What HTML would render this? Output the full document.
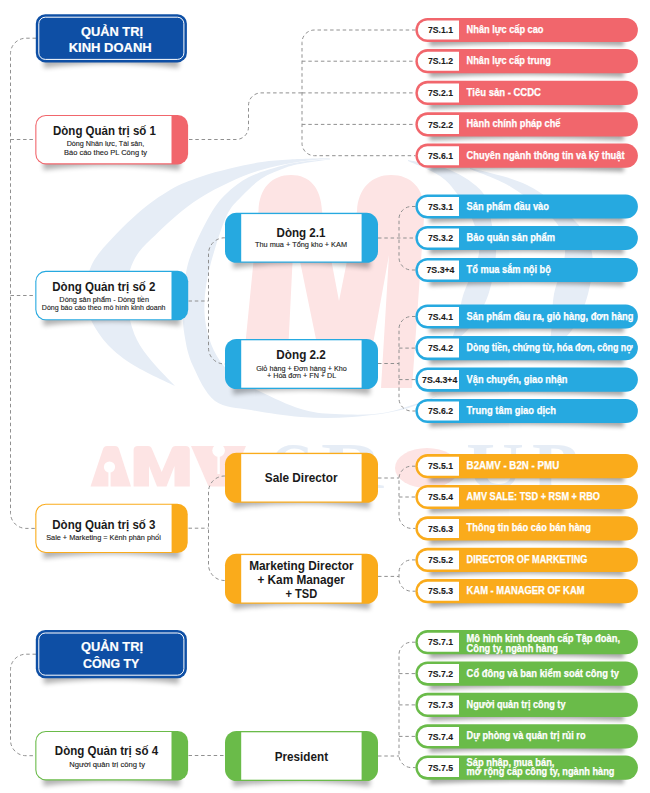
<!DOCTYPE html>
<html><head><meta charset="utf-8"><title>Diagram</title>
<style>
html,body{margin:0;padding:0;background:#fff;}
body{width:650px;height:793px;overflow:hidden;font-family:"Liberation Sans",sans-serif;}
svg{display:block;font-family:"Liberation Sans",sans-serif;}
</style></head><body>
<svg width="650" height="793" viewBox="0 0 650 793">
<defs>
<filter id="sh" x="-20%" y="-300%" width="140%" height="700%"><feGaussianBlur stdDeviation="2.8"/></filter>
<filter id="sp" x="-20%" y="-300%" width="140%" height="700%"><feGaussianBlur stdDeviation="2"/></filter>
<filter id="wm" x="-10%" y="-10%" width="120%" height="120%"><feGaussianBlur stdDeviation="0.6"/></filter>
</defs>
<rect width="650" height="793" fill="#fff"/>

<g id="watermark">
<path d="M330.0,158.0 C323.3,158.2 301.3,158.8 290.0,159.5 C278.7,160.2 272.0,160.5 262.0,162.0 C252.0,163.5 240.3,166.0 230.0,168.5 C219.7,171.0 210.0,173.4 200.0,177.0 C190.0,180.6 180.5,183.8 170.0,190.0 C159.5,196.2 148.7,203.7 137.0,214.0 C125.3,224.3 108.2,241.8 100.0,252.0 C91.8,262.2 90.5,267.5 88.0,275.0 C85.5,282.5 84.5,289.5 85.0,297.0 C85.5,304.5 87.2,312.0 91.0,320.0 C94.8,328.0 100.7,337.3 108.0,345.0 C115.3,352.7 123.8,359.2 135.0,366.0 C146.2,372.8 168.3,382.7 175.0,386.0 L175.0,386.0 C171.2,381.9 158.3,369.2 152.0,361.5 C145.7,353.8 140.8,347.6 137.0,340.0 C133.2,332.4 130.8,323.8 129.0,316.0 C127.2,308.2 126.3,300.7 126.5,293.0 C126.7,285.3 127.9,276.8 130.0,270.0 C132.1,263.2 134.8,257.8 139.0,252.0 C143.2,246.2 149.3,241.0 155.5,235.0 C161.7,229.0 168.6,222.2 176.0,216.0 C183.4,209.8 191.0,203.7 200.0,198.0 C209.0,192.3 219.8,186.7 230.0,182.0 C240.2,177.3 250.2,173.2 261.0,170.0 C271.8,166.8 283.5,164.4 295.0,162.5 C306.5,160.6 324.2,159.2 330.0,158.6 Z" fill="#e6edf6"/>
<path d="M330.0,159.0 C325.0,159.5 308.2,160.8 300.0,162.0 C291.8,163.2 289.5,163.5 281.0,166.0 C272.5,168.5 258.2,172.3 249.0,177.0 C239.8,181.7 232.5,187.7 226.0,194.0 C219.5,200.3 215.7,205.3 210.0,215.0 C204.3,224.7 196.1,241.8 192.0,252.0 C187.9,262.2 187.1,267.2 185.5,276.0 C183.9,284.8 182.7,295.2 182.5,305.0 C182.3,314.8 182.8,324.8 184.5,335.0 C186.2,345.2 187.9,355.0 193.0,366.0 C198.1,377.0 205.3,393.7 215.0,401.0 C224.7,408.3 236.7,407.3 251.0,410.0 C265.3,412.7 284.2,415.8 301.0,417.0 C317.8,418.2 335.0,418.2 352.0,417.0 C369.0,415.8 388.3,413.2 403.0,409.5 C417.7,405.8 433.8,397.4 440.0,395.0 L440.0,395.0 C431.0,397.9 403.5,409.3 386.0,412.5 C368.5,415.7 349.2,414.6 335.0,414.0 C320.8,413.4 313.3,412.7 301.0,409.0 C288.7,405.3 271.8,397.3 261.0,392.0 C250.2,386.7 242.8,382.2 236.0,377.0 C229.2,371.8 224.5,367.5 220.0,361.0 C215.5,354.5 211.6,346.2 209.0,338.0 C206.4,329.8 204.9,321.2 204.5,312.0 C204.1,302.8 204.9,293.0 206.5,283.0 C208.1,273.0 210.6,263.3 214.0,252.0 C217.4,240.7 222.5,224.2 227.0,215.0 C231.5,205.8 235.2,203.1 241.0,197.0 C246.8,190.9 254.1,183.4 261.6,178.5 C269.1,173.6 278.8,170.1 286.0,167.5 C293.2,164.9 297.7,164.3 305.0,163.0 C312.3,161.7 325.8,160.2 330.0,159.6 Z" fill="#e6edf6"/>
<path d="M408.0,160.0 C415.0,161.7 437.5,164.5 450.0,170.0 C462.5,175.5 476.0,183.8 483.0,193.0 C490.0,202.2 489.8,215.0 492.0,225.0 C494.2,235.0 496.6,241.5 496.0,253.0 C495.4,264.5 492.5,282.0 488.5,294.0 C484.5,306.0 478.4,316.5 472.0,325.0 C465.6,333.5 453.7,341.7 450.0,345.0 L450.0,345.0 C451.3,340.8 455.8,328.5 458.0,320.0 C460.2,311.5 460.0,305.2 463.5,294.0 C467.0,282.8 477.4,265.2 479.0,253.0 C480.6,240.8 476.5,230.7 473.0,221.0 C469.5,211.3 463.5,202.5 458.0,195.0 C452.5,187.5 448.3,181.7 440.0,176.0 C431.7,170.3 413.3,163.5 408.0,161.0 Z" fill="#e6edf6"/>
<path d="M470.0,168.0 C479.5,170.8 509.5,176.2 527.0,185.0 C544.5,193.8 564.2,209.7 575.0,221.0 C585.8,232.3 589.8,240.8 592.0,253.0 C594.2,265.2 591.3,281.2 588.0,294.0 C584.7,306.8 578.7,320.3 572.0,330.0 C565.3,339.7 552.0,348.3 548.0,352.0 L548.0,352.0 C548.7,347.5 551.0,334.7 552.0,325.0 C553.0,315.3 551.8,306.0 554.0,294.0 C556.2,282.0 564.8,265.2 565.0,253.0 C565.2,240.8 564.0,232.0 555.0,221.0 C546.0,210.0 525.2,195.7 511.0,187.0 C496.8,178.3 476.8,172.0 470.0,169.0 Z" fill="#e6edf6"/>
<path d="M241,388 L258.5,211 C259,188 272,175 291,175 C310,175 321,188 322,211 L339,301 L357,211 C358,188 372,175 391,175 C411,175 424,188 424.5,211 L412,388 L381,388 L389,255 L365,388 L326,388 L294,232 L286.3,388 Z" fill="#fde4e4"/>
<path d="M90.5,486.5 L103,449 Q104,446 107,446 L115,446 Q118,446 119,449 L131,486.5 Z" fill="#fde4e4"/>
<circle cx="109.5" cy="467" r="5.6" fill="#fff"/><rect x="108.4" y="467" width="2.2" height="20" fill="#fff"/>
<path d="M133.6,486.5 L133.6,450 Q133.6,446 138,446 L148,446 Q151,446 152,449 L161.7,472 L171.5,449 Q172.5,446 175.5,446 L185.5,446 Q189.8,446 189.8,450 L189.8,486.5 L174.5,486.5 L174.5,466 L166.5,486.5 L157,486.5 L149,466 L149,486.5 Z" fill="#fde4e4"/>
<path d="M191,446 L246,446 L228.5,486.5 L208.5,486.5 Z" fill="#fde4e4"/>
<circle cx="218.6" cy="450.5" r="6.3" fill="#fff"/><rect x="217.4" y="450" width="2.4" height="24" fill="#fff"/>
<g font-family="Liberation Serif, serif" font-weight="700" font-size="66" fill="#e6edf6"><text x="270" y="488" textLength="44" lengthAdjust="spacingAndGlyphs">G</text><text x="321" y="488" textLength="62" lengthAdjust="spacingAndGlyphs">R</text><text x="466" y="488" textLength="58" lengthAdjust="spacingAndGlyphs">U</text><text x="532" y="488" textLength="46" lengthAdjust="spacingAndGlyphs">P</text></g>
<ellipse cx="427" cy="468" rx="32" ry="20" fill="#fde4e4"/>
</g>
<g id="connectors">
<path d="M36,38.2 H26 a15.5,15.5 0 0 0 -15.5,15.5 V512.9 a15.5,15.5 0 0 0 15.5,15.5 H35.5" fill="none" stroke="#909090" stroke-width="1" stroke-dasharray="3.5 2.8"/>
<path d="M10.5,139.5 H35" fill="none" stroke="#909090" stroke-width="1" stroke-dasharray="3.5 2.8"/>
<path d="M10.5,295.5 H35" fill="none" stroke="#909090" stroke-width="1" stroke-dasharray="3.5 2.8"/>
<path d="M36,654.2 H26 a15.5,15.5 0 0 0 -15.5,15.5 V740.2 a15.5,15.5 0 0 0 15.5,15.5 H35.5" fill="none" stroke="#909090" stroke-width="1" stroke-dasharray="3.5 2.8"/>
<path d="M189,139.5 H236 a12.5,12.5 0 0 0 12.5,-12.5 V105.4 a12.5,12.5 0 0 1 12.5,-12.5 H302" fill="none" stroke="#909090" stroke-width="1" stroke-dasharray="3.5 2.8"/>
<path d="M415.5,30 H314.5 a12.5,12.5 0 0 0 -12.5,12.5 V143.2 a12.5,12.5 0 0 0 12.5,12.5 H415.5" fill="none" stroke="#909090" stroke-width="1" stroke-dasharray="3.5 2.8"/>
<path d="M302,61.2 H415.5" fill="none" stroke="#909090" stroke-width="1" stroke-dasharray="3.5 2.8"/>
<path d="M302,92.9 H415.5" fill="none" stroke="#909090" stroke-width="1" stroke-dasharray="3.5 2.8"/>
<path d="M302,124.4 H415.5" fill="none" stroke="#909090" stroke-width="1" stroke-dasharray="3.5 2.8"/>
<path d="M188.5,301 H208.5" fill="none" stroke="#909090" stroke-width="1" stroke-dasharray="3.5 2.8"/>
<path d="M225,237.8 H224.5 a16,16 0 0 0 -16,16 V348 a16,16 0 0 0 16,16 H225" fill="none" stroke="#909090" stroke-width="1" stroke-dasharray="3.5 2.8"/>
<path d="M188.5,528.2 H208.5" fill="none" stroke="#909090" stroke-width="1" stroke-dasharray="3.5 2.8"/>
<path d="M225,476 H224.5 a16,16 0 0 0 -16,16 V564.5 a16,16 0 0 0 16,16 H225" fill="none" stroke="#909090" stroke-width="1" stroke-dasharray="3.5 2.8"/>
<path d="M188.5,755.5 H225" fill="none" stroke="#909090" stroke-width="1" stroke-dasharray="3.5 2.8"/>
<path d="M378,238 H415.5" fill="none" stroke="#909090" stroke-width="1" stroke-dasharray="3.5 2.8"/>
<path d="M415.5,206.5 H411.5 a12.5,12.5 0 0 0 -12.5,12.5 V257.5 a12.5,12.5 0 0 0 12.5,12.5 H415.5" fill="none" stroke="#909090" stroke-width="1" stroke-dasharray="3.5 2.8"/>
<path d="M378,363.5 H399" fill="none" stroke="#909090" stroke-width="1" stroke-dasharray="3.5 2.8"/>
<path d="M415.5,316.5 H411.5 a12.5,12.5 0 0 0 -12.5,12.5 V398.5 a12.5,12.5 0 0 0 12.5,12.5 H415.5" fill="none" stroke="#909090" stroke-width="1" stroke-dasharray="3.5 2.8"/>
<path d="M399,348.1 H415.5" fill="none" stroke="#909090" stroke-width="1" stroke-dasharray="3.5 2.8"/>
<path d="M399,379.6 H415.5" fill="none" stroke="#909090" stroke-width="1" stroke-dasharray="3.5 2.8"/>
<path d="M378,478 H399" fill="none" stroke="#909090" stroke-width="1" stroke-dasharray="3.5 2.8"/>
<path d="M415.5,466.2 H411.5 a12.5,12.5 0 0 0 -12.5,12.5 V515.9 a12.5,12.5 0 0 0 12.5,12.5 H415.5" fill="none" stroke="#909090" stroke-width="1" stroke-dasharray="3.5 2.8"/>
<path d="M399,497 H415.5" fill="none" stroke="#909090" stroke-width="1" stroke-dasharray="3.5 2.8"/>
<path d="M378,576.4 H399" fill="none" stroke="#909090" stroke-width="1" stroke-dasharray="3.5 2.8"/>
<path d="M415.5,559.9 H411.5 a12.5,12.5 0 0 0 -12.5,12.5 V578.7 a12.5,12.5 0 0 0 12.5,12.5 H415.5" fill="none" stroke="#909090" stroke-width="1" stroke-dasharray="3.5 2.8"/>
<path d="M378,756 H399" fill="none" stroke="#909090" stroke-width="1" stroke-dasharray="3.5 2.8"/>
<path d="M415.5,642.2 H411.5 a12.5,12.5 0 0 0 -12.5,12.5 V755.1 a12.5,12.5 0 0 0 12.5,12.5 H415.5" fill="none" stroke="#909090" stroke-width="1" stroke-dasharray="3.5 2.8"/>
<path d="M399,673.6 H415.5" fill="none" stroke="#909090" stroke-width="1" stroke-dasharray="3.5 2.8"/>
<path d="M399,704.9 H415.5" fill="none" stroke="#909090" stroke-width="1" stroke-dasharray="3.5 2.8"/>
<path d="M399,736.4 H415.5" fill="none" stroke="#909090" stroke-width="1" stroke-dasharray="3.5 2.8"/>
</g>
<path d="M43.8,57.400000000000006 H178.89999999999998 V67.9 Q111.35,58.900000000000006 43.8,67.9 Z" fill="#000" opacity="0.3" filter="url(#sh)"/>
<rect x="35.8" y="14.2" width="151.1" height="48.2" rx="9.5" fill="#0e4fa5"/>
<rect x="38.8" y="17.2" width="145.1" height="42.2" rx="6.5" fill="none" stroke="#fff" stroke-width="1"/>
<text x="112" y="35.8" font-size="13.7" font-weight="700" fill="#fff" text-anchor="middle" textLength="62" lengthAdjust="spacingAndGlyphs" stroke="#fff" stroke-width="0.2">QUẢN TRỊ</text>
<text x="110.2" y="52" font-size="13.7" font-weight="700" fill="#fff" text-anchor="middle" textLength="83" lengthAdjust="spacingAndGlyphs" stroke="#fff" stroke-width="0.2">KINH DOANH</text>
<path d="M43.8,673.2 H178.89999999999998 V683.7 Q111.35,674.7 43.8,683.7 Z" fill="#000" opacity="0.3" filter="url(#sh)"/>
<rect x="35.8" y="630" width="151.1" height="48.2" rx="9.5" fill="#0e4fa5"/>
<rect x="38.8" y="633" width="145.1" height="42.2" rx="6.5" fill="none" stroke="#fff" stroke-width="1"/>
<text x="112" y="651.4" font-size="13.7" font-weight="700" fill="#fff" text-anchor="middle" textLength="62" lengthAdjust="spacingAndGlyphs" stroke="#fff" stroke-width="0.2">QUẢN TRỊ</text>
<text x="111.2" y="667.7" font-size="13.7" font-weight="700" fill="#fff" text-anchor="middle" textLength="56.3" lengthAdjust="spacingAndGlyphs" stroke="#fff" stroke-width="0.2">CÔNG TY</text>
<path d="M43.3,159.4 H180.10000000000002 V169.9 Q111.70000000000002,160.9 43.3,169.9 Z" fill="#000" opacity="0.3" filter="url(#sh)"/>
<rect x="35.3" y="115" width="152.8" height="49.4" rx="10.5" fill="#f1666c"/>
<path d="M45.8,116.1 H171.5 V163.3 H45.8 a9.4,9.4 0 0 1 -9.4,-9.4 V125.5 a9.4,9.4 0 0 1 9.4,-9.4 z" fill="#fff"/>
<text x="104.5" y="135" font-size="12.6" font-weight="700" fill="#1a1a1a" text-anchor="middle" textLength="103" lengthAdjust="spacingAndGlyphs">Dòng Quản trị số 1</text>
<text x="105.5" y="146.3" font-size="7.5" font-weight="400" fill="#1a1a1a" text-anchor="middle" textLength="77.7" lengthAdjust="spacingAndGlyphs" stroke="#1a1a1a" stroke-width="0.12">Dòng Nhân lực, Tài sản,</text>
<text x="105.5" y="154.7" font-size="7.5" font-weight="400" fill="#1a1a1a" text-anchor="middle" textLength="83" lengthAdjust="spacingAndGlyphs" stroke="#1a1a1a" stroke-width="0.12">Báo cáo theo PL Công ty</text>
<path d="M43.3,315.3 H180.2 V325.8 Q111.75,316.8 43.3,325.8 Z" fill="#000" opacity="0.3" filter="url(#sh)"/>
<rect x="35.3" y="270.8" width="152.9" height="49.5" rx="10.5" fill="#26a9e0"/>
<path d="M45.8,271.90000000000003 H171.5 V319.2 H45.8 a9.4,9.4 0 0 1 -9.4,-9.4 V281.3 a9.4,9.4 0 0 1 9.4,-9.4 z" fill="#fff"/>
<text x="103.9" y="290.9" font-size="12.6" font-weight="700" fill="#1a1a1a" text-anchor="middle" textLength="103.3" lengthAdjust="spacingAndGlyphs">Dòng Quản trị số 2</text>
<text x="104.2" y="301.8" font-size="7.5" font-weight="400" fill="#1a1a1a" text-anchor="middle" textLength="89.7" lengthAdjust="spacingAndGlyphs" stroke="#1a1a1a" stroke-width="0.12">Dòng sản phẩm - Dòng tiền</text>
<text x="103.7" y="310.2" font-size="7.5" font-weight="400" fill="#1a1a1a" text-anchor="middle" textLength="123.7" lengthAdjust="spacingAndGlyphs" stroke="#1a1a1a" stroke-width="0.12">Dòng báo cáo theo mô hình kinh doanh</text>
<path d="M43.3,548.0 H179.7 V558.5 Q111.5,549.5 43.3,558.5 Z" fill="#000" opacity="0.3" filter="url(#sh)"/>
<rect x="35.3" y="503.7" width="152.4" height="49.3" rx="10.5" fill="#faab1b"/>
<path d="M45.8,504.8 H171.6 V551.9 H45.8 a9.4,9.4 0 0 1 -9.4,-9.4 V514.2 a9.4,9.4 0 0 1 9.4,-9.4 z" fill="#fff"/>
<text x="103.9" y="529.2" font-size="12.6" font-weight="700" fill="#1a1a1a" text-anchor="middle" textLength="103.3" lengthAdjust="spacingAndGlyphs">Dòng Quản trị số 3</text>
<text x="103.5" y="539.6" font-size="7.5" font-weight="400" fill="#1a1a1a" text-anchor="middle" textLength="114.6" lengthAdjust="spacingAndGlyphs" stroke="#1a1a1a" stroke-width="0.12">Sale + Marketing = Kênh phân phối</text>
<path d="M43.3,775.4 H180.10000000000002 V785.9 Q111.70000000000002,776.9 43.3,785.9 Z" fill="#000" opacity="0.3" filter="url(#sh)"/>
<rect x="35.3" y="731" width="152.8" height="49.4" rx="10.5" fill="#6abb49"/>
<path d="M45.8,732.1 H171.5 V779.3 H45.8 a9.4,9.4 0 0 1 -9.4,-9.4 V741.5 a9.4,9.4 0 0 1 9.4,-9.4 z" fill="#fff"/>
<text x="106.5" y="755.1" font-size="12.6" font-weight="700" fill="#1a1a1a" text-anchor="middle" textLength="103.3" lengthAdjust="spacingAndGlyphs">Dòng Quản trị số 4</text>
<text x="107.1" y="767.4" font-size="7.5" font-weight="400" fill="#1a1a1a" text-anchor="middle" textLength="75.8" lengthAdjust="spacingAndGlyphs" stroke="#1a1a1a" stroke-width="0.12">Người quản trị công ty</text>
<path d="M233,257.8 H370 V268.3 Q301.5,259.3 233,268.3 Z" fill="#000" opacity="0.3" filter="url(#sh)"/>
<rect x="225" y="212.8" width="153" height="50" rx="11.5" fill="#26a9e0"/>
<rect x="241.2" y="214.10000000000002" width="120.4" height="47.4" fill="#fff"/>
<text x="301" y="237.2" font-size="12.6" font-weight="700" fill="#1a1a1a" text-anchor="middle" textLength="49" lengthAdjust="spacingAndGlyphs">Dòng 2.1</text>
<text x="301" y="247.1" font-size="7.5" font-weight="400" fill="#1a1a1a" text-anchor="middle" textLength="92" lengthAdjust="spacingAndGlyphs" stroke="#1a1a1a" stroke-width="0.12">Thu mua + Tổng kho + KAM</text>
<path d="M233,384 H370 V394.5 Q301.5,385.5 233,394.5 Z" fill="#000" opacity="0.3" filter="url(#sh)"/>
<rect x="225" y="339" width="153" height="50" rx="11.5" fill="#26a9e0"/>
<rect x="241.2" y="340.3" width="120.4" height="47.4" fill="#fff"/>
<text x="301.1" y="359.2" font-size="12.6" font-weight="700" fill="#1a1a1a" text-anchor="middle" textLength="49.5" lengthAdjust="spacingAndGlyphs">Dòng 2.2</text>
<text x="301.5" y="370.5" font-size="7.5" font-weight="400" fill="#1a1a1a" text-anchor="middle" textLength="90.7" lengthAdjust="spacingAndGlyphs" stroke="#1a1a1a" stroke-width="0.12">Giỏ hàng + Đơn hàng + Kho</text>
<text x="301.6" y="378" font-size="7.5" font-weight="400" fill="#1a1a1a" text-anchor="middle" textLength="69.2" lengthAdjust="spacingAndGlyphs" stroke="#1a1a1a" stroke-width="0.12">+ Hóa đơn + FN + DL</text>
<path d="M233,497.8 H370 V508.3 Q301.5,499.3 233,508.3 Z" fill="#000" opacity="0.3" filter="url(#sh)"/>
<rect x="225" y="452.8" width="153" height="50" rx="11.5" fill="#faab1b"/>
<rect x="241.2" y="454.1" width="120.4" height="47.4" fill="#fff"/>
<text x="301.2" y="481.9" font-size="12.6" font-weight="700" fill="#1a1a1a" text-anchor="middle" textLength="72.7" lengthAdjust="spacingAndGlyphs">Sale Director</text>
<path d="M233,598.8 H370 V609.3 Q301.5,600.3 233,609.3 Z" fill="#000" opacity="0.3" filter="url(#sh)"/>
<rect x="225" y="553.8" width="153" height="50" rx="11.5" fill="#faab1b"/>
<rect x="241.2" y="555.0999999999999" width="120.4" height="47.4" fill="#fff"/>
<text x="301.4" y="569.8" font-size="12.6" font-weight="700" fill="#1a1a1a" text-anchor="middle" textLength="104.5" lengthAdjust="spacingAndGlyphs">Marketing Director</text>
<text x="301.2" y="584" font-size="12.6" font-weight="700" fill="#1a1a1a" text-anchor="middle" textLength="87.5" lengthAdjust="spacingAndGlyphs">+ Kam Manager</text>
<text x="301.4" y="597.6" font-size="12.6" font-weight="700" fill="#1a1a1a" text-anchor="middle" textLength="31.8" lengthAdjust="spacingAndGlyphs">+ TSD</text>
<path d="M233,776 H370 V786.5 Q301.5,777.5 233,786.5 Z" fill="#000" opacity="0.3" filter="url(#sh)"/>
<rect x="225" y="731" width="153" height="50" rx="11.5" fill="#6abb49"/>
<rect x="241.2" y="732.3" width="120.4" height="47.4" fill="#fff"/>
<text x="301.4" y="760.5" font-size="12.6" font-weight="700" fill="#1a1a1a" text-anchor="middle" textLength="53.3" lengthAdjust="spacingAndGlyphs">President</text>
<path d="M429.4,37.099999999999994 H623.9 V46.099999999999994 Q526.65,41.099999999999994 429.4,46.099999999999994 Z" fill="#000" opacity="0.34" filter="url(#sp)"/>
<rect x="415.4" y="17.9" width="222.5" height="24.2" rx="12.1" fill="#f1666c"/>
<path d="M427.29999999999995,20.5 H459 V39.49999999999999 H427.29999999999995 a9.5,9.5 0 0 1 0,-19.0 z" fill="#fff"/>
<text x="440.5" y="33.2" font-size="9.4" font-weight="700" fill="#1a1a1a" text-anchor="middle" textLength="25" lengthAdjust="spacingAndGlyphs" stroke="#1a1a1a" stroke-width="0.12">7S.1.1</text>
<text x="466.6" y="33.0" font-size="10.8" font-weight="700" fill="#fff" text-anchor="start" textLength="76.9" lengthAdjust="spacingAndGlyphs" stroke="#fff" stroke-width="0.25">Nhân lực cấp cao</text>
<path d="M429.4,68.3 H623.9 V77.3 Q526.65,72.3 429.4,77.3 Z" fill="#000" opacity="0.34" filter="url(#sp)"/>
<rect x="415.4" y="49.1" width="222.5" height="24.2" rx="12.1" fill="#f1666c"/>
<path d="M427.29999999999995,51.7 H459 V70.7 H427.29999999999995 a9.5,9.5 0 0 1 0,-19.0 z" fill="#fff"/>
<text x="440.5" y="64.4" font-size="9.4" font-weight="700" fill="#1a1a1a" text-anchor="middle" textLength="25" lengthAdjust="spacingAndGlyphs" stroke="#1a1a1a" stroke-width="0.12">7S.1.2</text>
<text x="466.6" y="64.2" font-size="10.8" font-weight="700" fill="#fff" text-anchor="start" textLength="84.4" lengthAdjust="spacingAndGlyphs" stroke="#fff" stroke-width="0.25">Nhân lực cấp trung</text>
<path d="M429.4,100.00000000000001 H623.9 V109.00000000000001 Q526.65,104.00000000000001 429.4,109.00000000000001 Z" fill="#000" opacity="0.34" filter="url(#sp)"/>
<rect x="415.4" y="80.80000000000001" width="222.5" height="24.2" rx="12.1" fill="#f1666c"/>
<path d="M427.29999999999995,83.4 H459 V102.40000000000002 H427.29999999999995 a9.5,9.5 0 0 1 0,-19.0 z" fill="#fff"/>
<text x="440.5" y="96.10000000000001" font-size="9.4" font-weight="700" fill="#1a1a1a" text-anchor="middle" textLength="25" lengthAdjust="spacingAndGlyphs" stroke="#1a1a1a" stroke-width="0.12">7S.2.1</text>
<text x="466.6" y="95.9" font-size="10.8" font-weight="700" fill="#fff" text-anchor="start" textLength="74.4" lengthAdjust="spacingAndGlyphs" stroke="#fff" stroke-width="0.25">Tiêu sản - CCDC</text>
<path d="M429.4,131.5 H623.9 V140.5 Q526.65,135.5 429.4,140.5 Z" fill="#000" opacity="0.34" filter="url(#sp)"/>
<rect x="415.4" y="112.30000000000001" width="222.5" height="24.2" rx="12.1" fill="#f1666c"/>
<path d="M427.29999999999995,114.9 H459 V133.9 H427.29999999999995 a9.5,9.5 0 0 1 0,-19.0 z" fill="#fff"/>
<text x="440.5" y="127.60000000000001" font-size="9.4" font-weight="700" fill="#1a1a1a" text-anchor="middle" textLength="25" lengthAdjust="spacingAndGlyphs" stroke="#1a1a1a" stroke-width="0.12">7S.2.2</text>
<text x="466.6" y="127.4" font-size="10.8" font-weight="700" fill="#fff" text-anchor="start" textLength="93.9" lengthAdjust="spacingAndGlyphs" stroke="#fff" stroke-width="0.25">Hành chính pháp chế</text>
<path d="M429.4,162.79999999999998 H623.9 V171.79999999999998 Q526.65,166.79999999999998 429.4,171.79999999999998 Z" fill="#000" opacity="0.34" filter="url(#sp)"/>
<rect x="415.4" y="143.6" width="222.5" height="24.2" rx="12.1" fill="#f1666c"/>
<path d="M427.29999999999995,146.2 H459 V165.2 H427.29999999999995 a9.5,9.5 0 0 1 0,-19.0 z" fill="#fff"/>
<text x="440.5" y="158.89999999999998" font-size="9.4" font-weight="700" fill="#1a1a1a" text-anchor="middle" textLength="25" lengthAdjust="spacingAndGlyphs" stroke="#1a1a1a" stroke-width="0.12">7S.6.1</text>
<text x="466.6" y="158.7" font-size="10.8" font-weight="700" fill="#fff" text-anchor="start" textLength="157.9" lengthAdjust="spacingAndGlyphs" stroke="#fff" stroke-width="0.25">Chuyên ngành thông tin và kỹ thuật</text>
<path d="M429.4,213.6 H623.9 V222.6 Q526.65,217.6 429.4,222.6 Z" fill="#000" opacity="0.34" filter="url(#sp)"/>
<rect x="415.4" y="194.4" width="222.5" height="24.2" rx="12.1" fill="#26a9e0"/>
<path d="M427.29999999999995,197.0 H459 V216.0 H427.29999999999995 a9.5,9.5 0 0 1 0,-19.0 z" fill="#fff"/>
<text x="440.5" y="209.7" font-size="9.4" font-weight="700" fill="#1a1a1a" text-anchor="middle" textLength="25" lengthAdjust="spacingAndGlyphs" stroke="#1a1a1a" stroke-width="0.12">7S.3.1</text>
<text x="466.6" y="209.5" font-size="10.8" font-weight="700" fill="#fff" text-anchor="start" textLength="82.4" lengthAdjust="spacingAndGlyphs" stroke="#fff" stroke-width="0.25">Sản phẩm đầu vào</text>
<path d="M429.4,245.1 H623.9 V254.1 Q526.65,249.1 429.4,254.1 Z" fill="#000" opacity="0.34" filter="url(#sp)"/>
<rect x="415.4" y="225.9" width="222.5" height="24.2" rx="12.1" fill="#26a9e0"/>
<path d="M427.29999999999995,228.5 H459 V247.5 H427.29999999999995 a9.5,9.5 0 0 1 0,-19.0 z" fill="#fff"/>
<text x="440.5" y="241.2" font-size="9.4" font-weight="700" fill="#1a1a1a" text-anchor="middle" textLength="25" lengthAdjust="spacingAndGlyphs" stroke="#1a1a1a" stroke-width="0.12">7S.3.2</text>
<text x="466.6" y="241.0" font-size="10.8" font-weight="700" fill="#fff" text-anchor="start" textLength="88.4" lengthAdjust="spacingAndGlyphs" stroke="#fff" stroke-width="0.25">Bảo quản sản phẩm</text>
<path d="M429.4,277.09999999999997 H623.9 V286.09999999999997 Q526.65,281.09999999999997 429.4,286.09999999999997 Z" fill="#000" opacity="0.34" filter="url(#sp)"/>
<rect x="415.4" y="257.9" width="222.5" height="24.2" rx="12.1" fill="#26a9e0"/>
<path d="M427.29999999999995,260.5 H459 V279.49999999999994 H427.29999999999995 a9.5,9.5 0 0 1 0,-19.0 z" fill="#fff"/>
<text x="440.5" y="273.2" font-size="9.4" font-weight="700" fill="#1a1a1a" text-anchor="middle" textLength="28" lengthAdjust="spacingAndGlyphs" stroke="#1a1a1a" stroke-width="0.12">7S.3+4</text>
<text x="466.6" y="273.0" font-size="10.8" font-weight="700" fill="#fff" text-anchor="start" textLength="84.3" lengthAdjust="spacingAndGlyphs" stroke="#fff" stroke-width="0.25">Tổ mua sắm nội bộ</text>
<path d="M429.4,323.59999999999997 H623.9 V332.59999999999997 Q526.65,327.59999999999997 429.4,332.59999999999997 Z" fill="#000" opacity="0.34" filter="url(#sp)"/>
<rect x="415.4" y="304.4" width="222.5" height="24.2" rx="12.1" fill="#26a9e0"/>
<path d="M427.29999999999995,307.0 H459 V325.99999999999994 H427.29999999999995 a9.5,9.5 0 0 1 0,-19.0 z" fill="#fff"/>
<text x="440.5" y="319.7" font-size="9.4" font-weight="700" fill="#1a1a1a" text-anchor="middle" textLength="25" lengthAdjust="spacingAndGlyphs" stroke="#1a1a1a" stroke-width="0.12">7S.4.1</text>
<text x="466.6" y="319.5" font-size="10.8" font-weight="700" fill="#fff" text-anchor="start" textLength="166.9" lengthAdjust="spacingAndGlyphs" stroke="#fff" stroke-width="0.25">Sản phẩm đầu ra, giỏ hàng, đơn hàng</text>
<path d="M429.4,355.2 H623.9 V364.2 Q526.65,359.2 429.4,364.2 Z" fill="#000" opacity="0.34" filter="url(#sp)"/>
<rect x="415.4" y="336.0" width="222.5" height="24.2" rx="12.1" fill="#26a9e0"/>
<path d="M427.29999999999995,338.6 H459 V357.59999999999997 H427.29999999999995 a9.5,9.5 0 0 1 0,-19.0 z" fill="#fff"/>
<text x="440.5" y="351.3" font-size="9.4" font-weight="700" fill="#1a1a1a" text-anchor="middle" textLength="25" lengthAdjust="spacingAndGlyphs" stroke="#1a1a1a" stroke-width="0.12">7S.4.2</text>
<text x="466.6" y="351.1" font-size="10.8" font-weight="700" fill="#fff" text-anchor="start" textLength="166.0" lengthAdjust="spacingAndGlyphs" stroke="#fff" stroke-width="0.25">Dòng tiền, chứng từ, hóa đơn, công nợ</text>
<path d="M429.4,386.7 H623.9 V395.7 Q526.65,390.7 429.4,395.7 Z" fill="#000" opacity="0.34" filter="url(#sp)"/>
<rect x="415.4" y="367.5" width="222.5" height="24.2" rx="12.1" fill="#26a9e0"/>
<path d="M427.29999999999995,370.1 H459 V389.09999999999997 H427.29999999999995 a9.5,9.5 0 0 1 0,-19.0 z" fill="#fff"/>
<text x="439.7" y="382.8" font-size="9.4" font-weight="700" fill="#1a1a1a" text-anchor="middle" textLength="35.3" lengthAdjust="spacingAndGlyphs" stroke="#1a1a1a" stroke-width="0.12">7S.4.3+4</text>
<text x="466.6" y="382.6" font-size="10.8" font-weight="700" fill="#fff" text-anchor="start" textLength="100.9" lengthAdjust="spacingAndGlyphs" stroke="#fff" stroke-width="0.25">Vận chuyển, giao nhận</text>
<path d="M429.4,418.09999999999997 H623.9 V427.09999999999997 Q526.65,422.09999999999997 429.4,427.09999999999997 Z" fill="#000" opacity="0.34" filter="url(#sp)"/>
<rect x="415.4" y="398.9" width="222.5" height="24.2" rx="12.1" fill="#26a9e0"/>
<path d="M427.29999999999995,401.5 H459 V420.49999999999994 H427.29999999999995 a9.5,9.5 0 0 1 0,-19.0 z" fill="#fff"/>
<text x="440.5" y="414.2" font-size="9.4" font-weight="700" fill="#1a1a1a" text-anchor="middle" textLength="25" lengthAdjust="spacingAndGlyphs" stroke="#1a1a1a" stroke-width="0.12">7S.6.2</text>
<text x="466.6" y="414.0" font-size="10.8" font-weight="700" fill="#fff" text-anchor="start" textLength="89.4" lengthAdjust="spacingAndGlyphs" stroke="#fff" stroke-width="0.25">Trung tâm giao dịch</text>
<path d="M429.4,473.29999999999995 H623.9 V482.29999999999995 Q526.65,477.29999999999995 429.4,482.29999999999995 Z" fill="#000" opacity="0.34" filter="url(#sp)"/>
<rect x="415.4" y="454.09999999999997" width="222.5" height="24.2" rx="12.1" fill="#faab1b"/>
<path d="M427.29999999999995,456.7 H459 V475.69999999999993 H427.29999999999995 a9.5,9.5 0 0 1 0,-19.0 z" fill="#fff"/>
<text x="440.5" y="469.4" font-size="9.4" font-weight="700" fill="#1a1a1a" text-anchor="middle" textLength="25" lengthAdjust="spacingAndGlyphs" stroke="#1a1a1a" stroke-width="0.12">7S.5.1</text>
<text x="466.6" y="469.2" font-size="10.8" font-weight="700" fill="#fff" text-anchor="start" textLength="92.6" lengthAdjust="spacingAndGlyphs" stroke="#fff" stroke-width="0.25">B2AMV - B2N - PMU</text>
<path d="M429.4,504.09999999999997 H623.9 V513.0999999999999 Q526.65,508.0999999999999 429.4,513.0999999999999 Z" fill="#000" opacity="0.34" filter="url(#sp)"/>
<rect x="415.4" y="484.9" width="222.5" height="24.2" rx="12.1" fill="#faab1b"/>
<path d="M427.29999999999995,487.5 H459 V506.49999999999994 H427.29999999999995 a9.5,9.5 0 0 1 0,-19.0 z" fill="#fff"/>
<text x="440.5" y="500.2" font-size="9.4" font-weight="700" fill="#1a1a1a" text-anchor="middle" textLength="25" lengthAdjust="spacingAndGlyphs" stroke="#1a1a1a" stroke-width="0.12">7S.5.4</text>
<text x="466.6" y="500.0" font-size="10.8" font-weight="700" fill="#fff" text-anchor="start" textLength="133.4" lengthAdjust="spacingAndGlyphs" stroke="#fff" stroke-width="0.25">AMV SALE: TSD + RSM + RBO</text>
<path d="M429.4,535.5 H623.9 V544.5 Q526.65,539.5 429.4,544.5 Z" fill="#000" opacity="0.34" filter="url(#sp)"/>
<rect x="415.4" y="516.3" width="222.5" height="24.2" rx="12.1" fill="#faab1b"/>
<path d="M427.29999999999995,518.9 H459 V537.9 H427.29999999999995 a9.5,9.5 0 0 1 0,-19.0 z" fill="#fff"/>
<text x="440.5" y="531.6" font-size="9.4" font-weight="700" fill="#1a1a1a" text-anchor="middle" textLength="25" lengthAdjust="spacingAndGlyphs" stroke="#1a1a1a" stroke-width="0.12">7S.6.3</text>
<text x="466.6" y="531.4" font-size="10.8" font-weight="700" fill="#fff" text-anchor="start" textLength="124.4" lengthAdjust="spacingAndGlyphs" stroke="#fff" stroke-width="0.25">Thông tin báo cáo bán hàng</text>
<path d="M429.4,567.0 H623.9 V576.0 Q526.65,571.0 429.4,576.0 Z" fill="#000" opacity="0.34" filter="url(#sp)"/>
<rect x="415.4" y="547.8" width="222.5" height="24.2" rx="12.1" fill="#faab1b"/>
<path d="M427.29999999999995,550.4 H459 V569.4 H427.29999999999995 a9.5,9.5 0 0 1 0,-19.0 z" fill="#fff"/>
<text x="440.5" y="563.1" font-size="9.4" font-weight="700" fill="#1a1a1a" text-anchor="middle" textLength="25" lengthAdjust="spacingAndGlyphs" stroke="#1a1a1a" stroke-width="0.12">7S.5.2</text>
<text x="466.6" y="562.9" font-size="10.8" font-weight="700" fill="#fff" text-anchor="start" textLength="120.9" lengthAdjust="spacingAndGlyphs" stroke="#fff" stroke-width="0.25">DIRECTOR OF MARKETING</text>
<path d="M429.4,598.3000000000001 H623.9 V607.3000000000001 Q526.65,602.3000000000001 429.4,607.3000000000001 Z" fill="#000" opacity="0.34" filter="url(#sp)"/>
<rect x="415.4" y="579.1" width="222.5" height="24.2" rx="12.1" fill="#faab1b"/>
<path d="M427.29999999999995,581.7 H459 V600.7 H427.29999999999995 a9.5,9.5 0 0 1 0,-19.0 z" fill="#fff"/>
<text x="440.5" y="594.4000000000001" font-size="9.4" font-weight="700" fill="#1a1a1a" text-anchor="middle" textLength="25" lengthAdjust="spacingAndGlyphs" stroke="#1a1a1a" stroke-width="0.12">7S.5.3</text>
<text x="466.6" y="594.2" font-size="10.8" font-weight="700" fill="#fff" text-anchor="start" textLength="117.9" lengthAdjust="spacingAndGlyphs" stroke="#fff" stroke-width="0.25">KAM - MANAGER OF KAM</text>
<path d="M429.4,649.3000000000001 H623.9 V658.3000000000001 Q526.65,653.3000000000001 429.4,658.3000000000001 Z" fill="#000" opacity="0.34" filter="url(#sp)"/>
<rect x="415.4" y="630.1" width="222.5" height="24.2" rx="12.1" fill="#6abb49"/>
<path d="M427.29999999999995,632.7 H459 V651.7 H427.29999999999995 a9.5,9.5 0 0 1 0,-19.0 z" fill="#fff"/>
<text x="440.5" y="645.4000000000001" font-size="9.4" font-weight="700" fill="#1a1a1a" text-anchor="middle" textLength="25" lengthAdjust="spacingAndGlyphs" stroke="#1a1a1a" stroke-width="0.12">7S.7.1</text>
<text x="466.6" y="641.7" font-size="10.3" font-weight="700" fill="#fff" text-anchor="start" textLength="153.4" lengthAdjust="spacingAndGlyphs" stroke="#fff" stroke-width="0.25">Mô hình kinh doanh cấp Tập đoàn,</text>
<text x="466.6" y="652.1" font-size="10.3" font-weight="700" fill="#fff" text-anchor="start" textLength="91.4" lengthAdjust="spacingAndGlyphs" stroke="#fff" stroke-width="0.25">Công ty, ngành hàng</text>
<path d="M429.4,680.7 H623.9 V689.7 Q526.65,684.7 429.4,689.7 Z" fill="#000" opacity="0.34" filter="url(#sp)"/>
<rect x="415.4" y="661.5" width="222.5" height="24.2" rx="12.1" fill="#6abb49"/>
<path d="M427.29999999999995,664.1 H459 V683.1 H427.29999999999995 a9.5,9.5 0 0 1 0,-19.0 z" fill="#fff"/>
<text x="440.5" y="676.8000000000001" font-size="9.4" font-weight="700" fill="#1a1a1a" text-anchor="middle" textLength="25" lengthAdjust="spacingAndGlyphs" stroke="#1a1a1a" stroke-width="0.12">7S.7.2</text>
<text x="466.6" y="676.6" font-size="10.8" font-weight="700" fill="#fff" text-anchor="start" textLength="152.4" lengthAdjust="spacingAndGlyphs" stroke="#fff" stroke-width="0.25">Cổ đông và ban kiểm soát công ty</text>
<path d="M429.4,712.0 H623.9 V721.0 Q526.65,716.0 429.4,721.0 Z" fill="#000" opacity="0.34" filter="url(#sp)"/>
<rect x="415.4" y="692.8" width="222.5" height="24.2" rx="12.1" fill="#6abb49"/>
<path d="M427.29999999999995,695.4 H459 V714.4 H427.29999999999995 a9.5,9.5 0 0 1 0,-19.0 z" fill="#fff"/>
<text x="440.5" y="708.1" font-size="9.4" font-weight="700" fill="#1a1a1a" text-anchor="middle" textLength="25" lengthAdjust="spacingAndGlyphs" stroke="#1a1a1a" stroke-width="0.12">7S.7.3</text>
<text x="466.6" y="707.9" font-size="10.8" font-weight="700" fill="#fff" text-anchor="start" textLength="98.9" lengthAdjust="spacingAndGlyphs" stroke="#fff" stroke-width="0.25">Người quản trị công ty</text>
<path d="M429.4,743.5 H623.9 V752.5 Q526.65,747.5 429.4,752.5 Z" fill="#000" opacity="0.34" filter="url(#sp)"/>
<rect x="415.4" y="724.3" width="222.5" height="24.2" rx="12.1" fill="#6abb49"/>
<path d="M427.29999999999995,726.9 H459 V745.9 H427.29999999999995 a9.5,9.5 0 0 1 0,-19.0 z" fill="#fff"/>
<text x="440.5" y="739.6" font-size="9.4" font-weight="700" fill="#1a1a1a" text-anchor="middle" textLength="25" lengthAdjust="spacingAndGlyphs" stroke="#1a1a1a" stroke-width="0.12">7S.7.4</text>
<text x="466.6" y="739.4" font-size="10.8" font-weight="700" fill="#fff" text-anchor="start" textLength="118.9" lengthAdjust="spacingAndGlyphs" stroke="#fff" stroke-width="0.25">Dự phòng và quản trị rủi ro</text>
<path d="M429.4,774.7 H623.9 V783.7 Q526.65,778.7 429.4,783.7 Z" fill="#000" opacity="0.34" filter="url(#sp)"/>
<rect x="415.4" y="755.5" width="222.5" height="24.2" rx="12.1" fill="#6abb49"/>
<path d="M427.29999999999995,758.1 H459 V777.1 H427.29999999999995 a9.5,9.5 0 0 1 0,-19.0 z" fill="#fff"/>
<text x="440.5" y="770.8000000000001" font-size="9.4" font-weight="700" fill="#1a1a1a" text-anchor="middle" textLength="25" lengthAdjust="spacingAndGlyphs" stroke="#1a1a1a" stroke-width="0.12">7S.7.5</text>
<text x="466.6" y="765.7" font-size="10.3" font-weight="700" fill="#fff" text-anchor="start" textLength="87.8" lengthAdjust="spacingAndGlyphs" stroke="#fff" stroke-width="0.25">Sáp nhập, mua bán,</text>
<text x="466.6" y="775.4" font-size="10.3" font-weight="700" fill="#fff" text-anchor="start" textLength="147.8" lengthAdjust="spacingAndGlyphs" stroke="#fff" stroke-width="0.25">mở rộng cấp công ty, ngành hàng</text>
</svg></body></html>
